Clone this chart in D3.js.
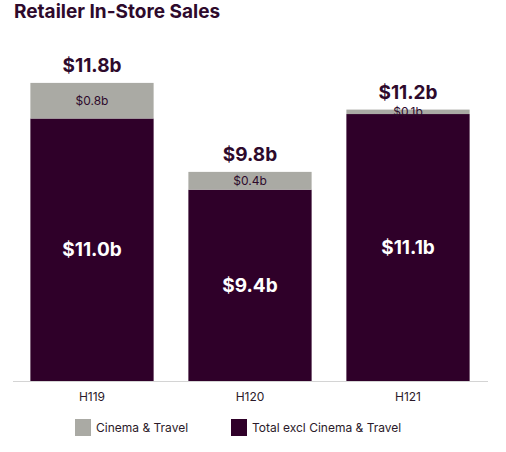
<!DOCTYPE html>
<html lang="en">
<head>
  <meta charset="UTF-8">
  <title>Retailer In-Store Sales</title>
  <script src="https://d3js.org/d3.v7.min.js"></script>
  <style>
    body {
      margin: 0;
      background: #fff;
      font-family: Inter, "Noto Sans", Arial, sans-serif;
    }
  </style>
</head>
<body>
<div id="chart"></div>
<script>
// chart data
const periods = ["H119", "H120", "H121"];
const cinemaTravel = [0.8, 0.4, 0.1];
const exclCinemaTravel = [11.0, 9.4, 11.1];
const totals = [11.8, 9.8, 11.2];
const seriesNames = ["Cinema & Travel", "Total excl Cinema & Travel"];

const width = 506, height = 452;
const purple = "#2f0029";
const grey = "#aaaaa4";
const yMin = 5.1; // axis does not start at zero in the original

const svg = d3.select("#chart").append("svg")
  .attr("width", width)
  .attr("height", height);

// title
svg.append("text")
  .attr("x", 14)
  .attr("y", 18)
  .style("font-size", "19px")
  .style("font-weight", "700")
  .style("fill", "#2e0a2c")
  .text("Retailer In-Store Sales");

const x = d3.scaleBand()
  .domain(periods)
  .range([13, 487])
  .paddingInner(0.22)
  .paddingOuter(0.11);

const y = d3.scaleLinear()
  .domain([yMin, 12])
  .range([381, 74]);

const rows = periods.map((p, i) => ({
  period: p,
  excl: exclCinemaTravel[i],
  cinema: cinemaTravel[i],
  total: totals[i]
}));

const stack = d3.stack().keys(["excl", "cinema"]);
const series = stack(rows);
const colors = { excl: purple, cinema: grey };

svg.append("g")
  .selectAll("g")
  .data(series)
  .join("g")
  .attr("fill", d => colors[d.key])
  .selectAll("rect")
  .data(d => d)
  .join("rect")
  .attr("x", d => x(d.data.period))
  .attr("width", x.bandwidth())
  .attr("y", d => y(d[1]))
  .attr("height", d => y(d[0] === 0 ? yMin : d[0]) - y(d[1]));

// baseline
svg.append("line")
  .attr("x1", 13)
  .attr("x2", 488)
  .attr("y1", y(yMin) + 0.5)
  .attr("y2", y(yMin) + 0.5)
  .style("stroke", "#d4d4d4")
  .style("stroke-width", 1);

// labels inside purple segments
svg.append("g")
  .selectAll("text")
  .data(rows)
  .join("text")
  .attr("x", d => x(d.period) + x.bandwidth() / 2)
  .attr("y", d => (y(yMin) + y(d.excl)) / 2)
  .attr("dy", "0.35em")
  .attr("text-anchor", "middle")
  .style("font-size", "19px")
  .style("font-weight", "700")
  .style("fill", "#fff")
  .text(d => `$${d.excl.toFixed(1)}b`);

// labels inside grey segments
svg.append("g")
  .selectAll("text")
  .data(rows)
  .join("text")
  .attr("x", d => x(d.period) + x.bandwidth() / 2)
  .attr("y", d => (y(d.excl) + y(d.total)) / 2)
  .attr("dy", "0.35em")
  .attr("text-anchor", "middle")
  .style("font-size", "12px")
  .style("fill", "#2e0a2c")
  .text(d => `$${d.cinema.toFixed(1)}b`);

// totals above bars
svg.append("g")
  .selectAll("text")
  .data(rows)
  .join("text")
  .attr("x", d => x(d.period) + x.bandwidth() / 2)
  .attr("y", d => y(d.total) - 11)
  .attr("text-anchor", "middle")
  .style("font-size", "19px")
  .style("font-weight", "700")
  .style("fill", "#2e0a2c")
  .text(d => `$${d.total.toFixed(1)}b`);

// category axis
const xAxis = svg.append("g")
  .attr("transform", `translate(0,${y(yMin)})`)
  .call(d3.axisBottom(x).tickSize(0).tickPadding(11));
xAxis.select(".domain").remove();
xAxis.selectAll("text")
  .style("font-family", "Inter, 'Noto Sans', Arial, sans-serif")
  .style("font-size", "12px")
  .style("fill", "#2b1a2a");

// legend
const legend = svg.append("g");
const legendX = [75, 231];
const legendColors = [grey, purple];
seriesNames.forEach((name, i) => {
  const g = legend.append("g").attr("transform", `translate(${legendX[i]},419)`);
  g.append("rect")
    .attr("width", 16)
    .attr("height", 17)
    .attr("fill", legendColors[i]);
  g.append("text")
    .attr("x", 21)
    .attr("y", 9)
    .attr("dy", "0.35em")
    .style("font-size", "12px")
    .style("fill", "#2b1a2a")
    .text(name);
});
</script>
</body>
</html>
